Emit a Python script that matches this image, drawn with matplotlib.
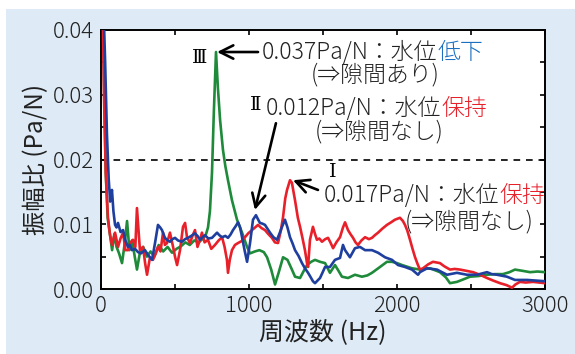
import matplotlib
matplotlib.use("Agg")
import matplotlib.pyplot as plt
from matplotlib.patches import Rectangle
from matplotlib.ticker import MultipleLocator, FixedLocator, FixedFormatter

plt.rcParams['font.family'] = ['Noto Sans CJK JP', 'DejaVu Sans']

# ---------------- data ----------------
green_f = [0, 12, 22, 32, 45, 60, 75, 90, 105, 122, 142, 160, 176, 192, 210, 228, 243, 262, 285, 310,
           335, 360, 390, 420, 450, 480, 510, 540, 570, 600, 630, 660, 690, 710, 723, 736, 750, 762, 777,
           790, 805, 824, 840, 858, 885, 919, 953, 987, 1007, 1040, 1070, 1100, 1122, 1150, 1176, 1200,
           1230, 1260, 1290, 1311, 1345, 1370, 1392, 1420, 1446, 1480, 1514, 1547, 1581, 1605, 1628, 1669,
           1716, 1763, 1800, 1831, 1885, 1932, 1966, 2000, 2034, 2101, 2155, 2223, 2290, 2330, 2358, 2405,
           2450, 2493, 2550, 2608, 2660, 2716, 2760, 2797, 2850, 2899, 2950, 3000]
green_v = [0.046, 0.045, 0.030, 0.018, 0.011, 0.0085, 0.006, 0.0085, 0.0065, 0.0055, 0.004, 0.007, 0.0105,
           0.006, 0.0075, 0.005, 0.003, 0.0055, 0.0065, 0.005, 0.0058, 0.005, 0.0068, 0.0058, 0.0065, 0.0056,
           0.0062, 0.0066, 0.0072, 0.0068, 0.0075, 0.0072, 0.0078, 0.0085, 0.0095, 0.012, 0.018, 0.027, 0.0366,
           0.031, 0.026, 0.0215, 0.019, 0.0168, 0.0137, 0.0107, 0.0087, 0.0065, 0.0055, 0.0058, 0.006, 0.0057,
           0.0049, 0.003, 0.0007, 0.0025, 0.0049, 0.0045, 0.003, 0.0019, 0.0017, 0.0028, 0.0037, 0.0042,
           0.0045, 0.0042, 0.004, 0.0025, 0.0037, 0.0028, 0.0019, 0.0017, 0.0022, 0.0019, 0.0021, 0.0025,
           0.0034, 0.0042, 0.0042, 0.004, 0.0037, 0.0032, 0.003, 0.0032, 0.0026, 0.0018, 0.0009, 0.0011,
           0.0015, 0.0019, 0.002, 0.0022, 0.0023, 0.0023, 0.0026, 0.003, 0.0028, 0.0026, 0.0027, 0.0026]

red_f = [0, 10, 20, 32, 47, 60, 74, 95, 115, 132, 149, 165, 182, 200, 216, 232, 243, 263, 284, 298, 311,
         331, 351, 370, 385, 402, 419, 432, 446, 466, 487, 500, 514, 534, 554, 568, 581, 601, 618, 635, 652,
         669, 682, 700, 723, 745, 770, 795, 818, 835, 851, 858, 870, 885, 905, 926, 950, 973, 995, 1020, 1040,
         1061, 1085, 1108, 1130, 1155, 1175, 1196, 1215, 1230, 1245, 1257, 1277, 1290, 1311, 1330, 1345, 1362,
         1378, 1392, 1399, 1412, 1432, 1446, 1459, 1475, 1493, 1515, 1534, 1550, 1568, 1590, 1615, 1635, 1649,
         1669, 1685, 1703, 1720, 1736, 1760, 1784, 1810, 1831, 1850, 1872, 1900, 1932, 1960, 1986, 2020, 2040,
         2054, 2070, 2088, 2105, 2122, 2140, 2155, 2176, 2210, 2243, 2265, 2290, 2320, 2358, 2390, 2426, 2470,
         2514, 2560, 2608, 2650, 2696, 2740, 2777, 2800, 2831, 2870, 2919, 2960, 3000]
red_v = [0.046, 0.045, 0.030, 0.018, 0.011, 0.0085, 0.0068, 0.0087, 0.0065, 0.0078, 0.0087, 0.006, 0.006,
         0.0072, 0.0076, 0.0065, 0.0125, 0.006, 0.0065, 0.004, 0.0022, 0.0049, 0.0045, 0.0055, 0.0065, 0.0058,
         0.0087, 0.0068, 0.0071, 0.0087, 0.0065, 0.005, 0.0037, 0.006, 0.0096, 0.0102, 0.008, 0.0071, 0.0082,
         0.0091, 0.0065, 0.0076, 0.0087, 0.0072, 0.0076, 0.0062, 0.0068, 0.0075, 0.008, 0.0065, 0.0045, 0.0025,
         0.0045, 0.006, 0.0068, 0.0071, 0.0074, 0.008, 0.0086, 0.0091, 0.0095, 0.0099, 0.0094, 0.0091, 0.0085,
         0.0079, 0.0072, 0.0071, 0.009, 0.0111, 0.014, 0.0153, 0.0168, 0.0164, 0.0137, 0.011, 0.0096, 0.0078,
         0.006, 0.004, 0.0034, 0.0076, 0.0096, 0.0085, 0.0076, 0.0078, 0.0073, 0.0077, 0.0079, 0.0072, 0.0063,
         0.0072, 0.008, 0.0095, 0.0103, 0.0091, 0.0085, 0.0079, 0.0072, 0.0068, 0.0075, 0.008, 0.0077, 0.0079,
         0.0083, 0.0087, 0.0093, 0.0099, 0.0103, 0.0107, 0.011, 0.0105, 0.0099, 0.009, 0.0076, 0.0062, 0.0049,
         0.0038, 0.003, 0.0032, 0.0038, 0.0042, 0.0041, 0.004, 0.0035, 0.003, 0.0031, 0.003, 0.0028, 0.0026,
         0.0022, 0.0017, 0.0013, 0.0009, 0.0006, 0.0002, 0.0007, 0.0011, 0.001, 0.0011, 0.001, 0.0009]

blue_f = [0, 15, 28, 40, 52, 62, 74, 84, 95, 105, 115, 132, 149, 165, 182, 195, 209, 230, 250, 270, 297, 320,
          345, 365, 385, 400, 412, 432, 450, 466, 483, 500, 520, 547, 568, 588, 610, 635, 652, 669, 686, 703,
          725, 750, 767, 784, 800, 818, 840, 858, 875, 892, 910, 926, 940, 953, 970, 987, 1007, 1027, 1047,
          1060, 1074, 1090, 1108, 1125, 1142, 1165, 1189, 1205, 1223, 1243, 1260, 1277, 1295, 1311, 1335, 1358,
          1378, 1399, 1412, 1432, 1446, 1480, 1514, 1547, 1581, 1615, 1635, 1649, 1682, 1716, 1750, 1784, 1831,
          1872, 1919, 1966, 2007, 2054, 2101, 2142, 2155, 2203, 2270, 2338, 2405, 2473, 2541, 2608, 2640, 2676,
          2743, 2797, 2878, 2940, 3000]
blue_v = [0.046, 0.045, 0.035, 0.024, 0.017, 0.0135, 0.0153, 0.012, 0.0099, 0.0095, 0.0102, 0.0088, 0.0091,
          0.0075, 0.0065, 0.0068, 0.006, 0.0062, 0.0057, 0.0055, 0.006, 0.0052, 0.0045, 0.0071, 0.0099, 0.0095,
          0.0091, 0.0079, 0.0075, 0.0073, 0.0077, 0.0079, 0.0075, 0.0073, 0.0077, 0.0079, 0.0082, 0.0086,
          0.0082, 0.0076, 0.008, 0.0083, 0.0078, 0.0079, 0.0083, 0.0087, 0.0083, 0.008, 0.0082, 0.0079, 0.0084,
          0.0091, 0.0097, 0.0103, 0.0095, 0.008, 0.006, 0.0042, 0.0071, 0.0107, 0.0114, 0.0108, 0.0102, 0.0101,
          0.0099, 0.0093, 0.0087, 0.008, 0.0076, 0.0085, 0.0096, 0.0107, 0.0095, 0.008, 0.007, 0.006, 0.0051,
          0.004, 0.0032, 0.0025, 0.002, 0.0012, 0.0009, 0.0017, 0.0034, 0.0034, 0.0045, 0.0048, 0.0068, 0.006,
          0.0049, 0.0063, 0.0065, 0.006, 0.006, 0.0056, 0.0049, 0.0045, 0.0037, 0.0034, 0.003, 0.0022, 0.0026,
          0.0032, 0.003, 0.0022, 0.0025, 0.0022, 0.0022, 0.0026, 0.0023, 0.0022, 0.0019, 0.0014, 0.0014,
          0.0013, 0.0012]

x_tick_vals = [0, 1000, 2000, 3000]
x_tick_labels = ['0', '1000', '2000', '3000']
y_tick_vals = [0.00, 0.01, 0.02, 0.03, 0.04]
y_tick_labels = ['0.00', '0.01', '0.02', '0.03', '0.04']
threshold = 0.02

# ---------------- figure ----------------
W, H = 575, 354
fig = plt.figure(figsize=(W / 100, H / 100), dpi=100)
fig.patch.set_facecolor('white')
fig.add_artist(Rectangle((6 / W, 0), 1 - 6 / W, 1 - 9 / H, transform=fig.transFigure,
                         facecolor='#deebf7', edgecolor='none', zorder=-10))

ax = fig.add_axes([101 / W, 1 - 289 / H, 444 / W, 259 / H])
ax.set_facecolor('white')

GREEN = '#1e8a3a'
RED = '#e8202a'
BLUE = '#1f3f9e'
lw = 1.9
ax.plot(green_f, green_v, color=GREEN, lw=lw, zorder=3, solid_joinstyle='round')
ax.plot(red_f, red_v, color=RED, lw=lw, zorder=4, solid_joinstyle='round')
ax.plot(blue_f, blue_v, color=BLUE, lw=lw, zorder=5, solid_joinstyle='round')

ax.axhline(threshold, color='black', lw=1.2, ls=(0, (4, 3.5)), zorder=2)

ax.set_xlim(0, 3000)
ax.set_ylim(0, 0.04)
ax.xaxis.set_major_locator(FixedLocator(x_tick_vals))
ax.xaxis.set_major_formatter(FixedFormatter(x_tick_labels))
ax.yaxis.set_major_locator(FixedLocator(y_tick_vals))
ax.yaxis.set_major_formatter(FixedFormatter(y_tick_labels))
ax.xaxis.set_minor_locator(MultipleLocator(500))
ax.yaxis.set_minor_locator(MultipleLocator(0.005))
for which in ('major', 'minor'):
    ax.tick_params(axis='both', which=which, direction='in', length=3.5, width=1.2,
                   top=True, right=True, color='black')
ax.tick_params(axis='both', which='major', labelsize=16, labelcolor='#222222')
ax.tick_params(axis='x', which='major', pad=4)
ax.tick_params(axis='y', which='major', pad=5)
for lab in ax.get_xticklabels() + ax.get_yticklabels():
    lab.set_fontweight('light')
for s in ax.spines.values():
    s.set_linewidth(1.4)
    s.set_color('black')

ax.set_xlabel('周波数 (Hz)', fontsize=18, color='#222222', labelpad=2)
ax.set_ylabel('振幅比 (Pa/N)', fontsize=17.5, color='#222222', labelpad=3)

# ---------------- annotations ----------------
fs = 16.5
tc = '#222222'
fw = 'light'
ap = dict(arrowstyle='->', lw=1.9, color='black', mutation_scale=24, shrinkA=0, shrinkB=0)
rfam = ['DejaVu Serif', 'Noto Sans CJK JP']

# III
ax.text(669, 0.0357, 'Ⅲ', fontsize=14, family=rfam, ha='center', va='center', color='black')
ax.annotate('', xy=(784, 0.0366), xytext=(1061, 0.0366), arrowprops=ap)
t = ax.text(1085, 0.0366, '0.037Pa/N：水位', fontsize=fs, color=tc, ha='left', va='center', fontweight=fw)
ax.annotate('低下', xy=(1, 0), xycoords=t, ha='left', va='bottom', fontsize=fs, color='#1a6fc0', fontweight=fw)
ax.text(1851, 0.0330, '(⇒隙間あり)', fontsize=fs, color=tc, ha='center', va='center', fontweight=fw)

# II
ax.text(1047, 0.0284, 'Ⅱ', fontsize=14, family=rfam, ha='center', va='center', color='black')
ax.annotate('', xy=(1040, 0.0122), xytext=(1182, 0.0256), arrowprops=ap)
t = ax.text(1115, 0.0279, '0.012Pa/N：水位', fontsize=fs, color=tc, ha='left', va='center', fontweight=fw)
ax.annotate('保持', xy=(1, 0), xycoords=t, ha='left', va='bottom', fontsize=fs, color=RED, fontweight=fw)
ax.text(1880, 0.0242, '(⇒隙間なし)', fontsize=fs, color=tc, ha='center', va='center', fontweight=fw)

# I
ax.text(1568, 0.0181, 'Ⅰ', fontsize=14, family=rfam, ha='center', va='center', color='black')
ax.annotate('', xy=(1297, 0.0168), xytext=(1466, 0.0153), arrowprops=ap)
t = ax.text(1505, 0.0145, '0.017Pa/N：水位', fontsize=fs, color=tc, ha='left', va='center', fontweight=fw)
ax.annotate('保持', xy=(1, 0), xycoords=t, ha='left', va='bottom', fontsize=fs, color=RED, fontweight=fw)
ax.text(2925, 0.0103, '(⇒隙間なし)', fontsize=fs, color=tc, ha='right', va='center', fontweight=fw)

fig.savefig('out.png', dpi=100)
